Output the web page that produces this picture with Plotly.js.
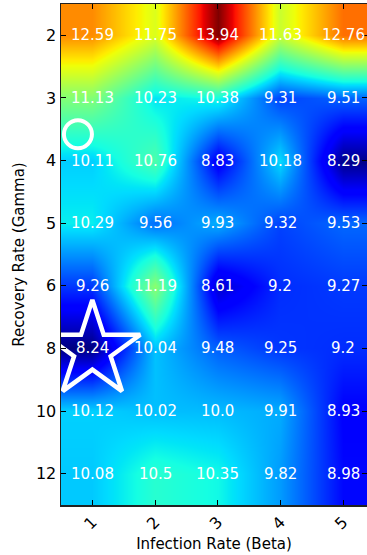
<!DOCTYPE html>
<html>
<head>
<meta charset="utf-8">
<script src="https://cdn.plot.ly/plotly-3.0.1.min.js"></script>
<style>html,body{margin:0;padding:0;background:#fff;}#chart{width:367px;height:555px;}</style>
</head>
<body>
<div id="chart"></div>
<script>
// Data
const betaLabels = ['1', '2', '3', '4', '5'];
const gammaLabels = ['2', '3', '4', '5', '6', '8', '10', '12'];
const row2  = [12.59, 11.75, 13.94, 11.63, 12.76];
const row3  = [11.13, 10.23, 10.38, 9.31, 9.51];
const row4  = [10.11, 10.76, 8.83, 10.18, 8.29];
const row5  = [10.29, 9.56, 9.93, 9.32, 9.53];
const row6  = [9.26, 11.19, 8.61, 9.2, 9.27];
const row8  = [8.24, 10.04, 9.48, 9.25, 9.2];
const row10 = [10.12, 10.02, 10.0, 9.91, 8.93];
const row12 = [10.08, 10.5, 10.35, 9.82, 8.98];
const zRows = [row2, row3, row4, row5, row6, row8, row10, row12];
// highlighted points (beta, gamma-row index)
const starX = [1.0];  const starY = [5.03];
const circleX = [0.77]; const circleY = [1.58];

// matplotlib jet
const jet = [
  [0, 'rgb(0,0,127)'], [0.11, 'rgb(0,0,255)'], [0.125, 'rgb(0,0,255)'],
  [0.34, 'rgb(0,219,255)'], [0.35, 'rgb(0,229,247)'], [0.375, 'rgb(21,255,226)'],
  [0.64, 'rgb(239,255,8)'], [0.65, 'rgb(247,245,0)'], [0.66, 'rgb(255,236,0)'],
  [0.89, 'rgb(255,19,0)'], [0.91, 'rgb(232,0,0)'], [1, 'rgb(127,0,0)']
];

const xVals = betaLabels.map((_, i) => i + 1);
const yIdx = gammaLabels.map((_, i) => i);
const fmt = v => Number.isInteger(v) ? v.toFixed(1) : String(v);

const annotations = [];
zRows.forEach((row, j) => {
  row.forEach((v, i) => {
    annotations.push({
      x: xVals[i], y: yIdx[j], xref: 'x', yref: 'y',
      text: fmt(v), showarrow: false,
      font: {family: 'DejaVu Sans', size: 15, color: 'white'}
    });
  });
});

const traces = [
  {
    type: 'heatmap', x: xVals, y: yIdx, z: zRows,
    colorscale: jet, zsmooth: 'best', showscale: false, hoverinfo: 'skip'
  },
  {
    type: 'scatter', mode: 'markers', x: circleX, y: circleY,
    marker: {symbol: 'circle-open', size: 28, color: 'white', line: {color: 'white', width: 4}},
    hoverinfo: 'skip'
  },
  {
    type: 'scatter', mode: 'markers', x: starX, y: starY,
    marker: {symbol: 'star-open', size: 72, color: 'white', line: {color: 'white', width: 4.5}},
    hoverinfo: 'skip'
  }
];

const axisFont = {family: 'DejaVu Sans', size: 15, color: 'black'};
const layout = {
  width: 367, height: 555,
  margin: {l: 61, r: 0, t: 4, b: 50},
  paper_bgcolor: 'white', plot_bgcolor: 'white',
  showlegend: false,
  font: axisFont,
  xaxis: {
    range: [0.5, 5.38], tickvals: xVals, ticktext: betaLabels, tickangle: -45,
    ticks: 'inside', ticklen: 5, tickcolor: 'black', mirror: 'ticks',
    showline: true, linecolor: '#222', linewidth: 1.5, showgrid: false, zeroline: false,
    tickfont: {family: 'DejaVu Sans', size: 16, color: 'black'},
    title: {text: 'Infection Rate (Beta)', font: axisFont, standoff: 6}
  },
  yaxis: {
    range: [7.5, -0.5], tickvals: yIdx, ticktext: gammaLabels,
    ticks: 'inside', ticklen: 5, tickcolor: 'black', mirror: 'ticks',
    showline: true, linecolor: '#222', linewidth: 1.5, showgrid: false, zeroline: false,
    tickfont: {family: 'DejaVu Sans', size: 16, color: 'black'},
    title: {text: 'Recovery Rate (Gamma)', font: axisFont, standoff: 7}
  },
  annotations: annotations
};

Plotly.newPlot('chart', traces, layout, {displayModeBar: false, staticPlot: true});
</script>
</body>
</html>
